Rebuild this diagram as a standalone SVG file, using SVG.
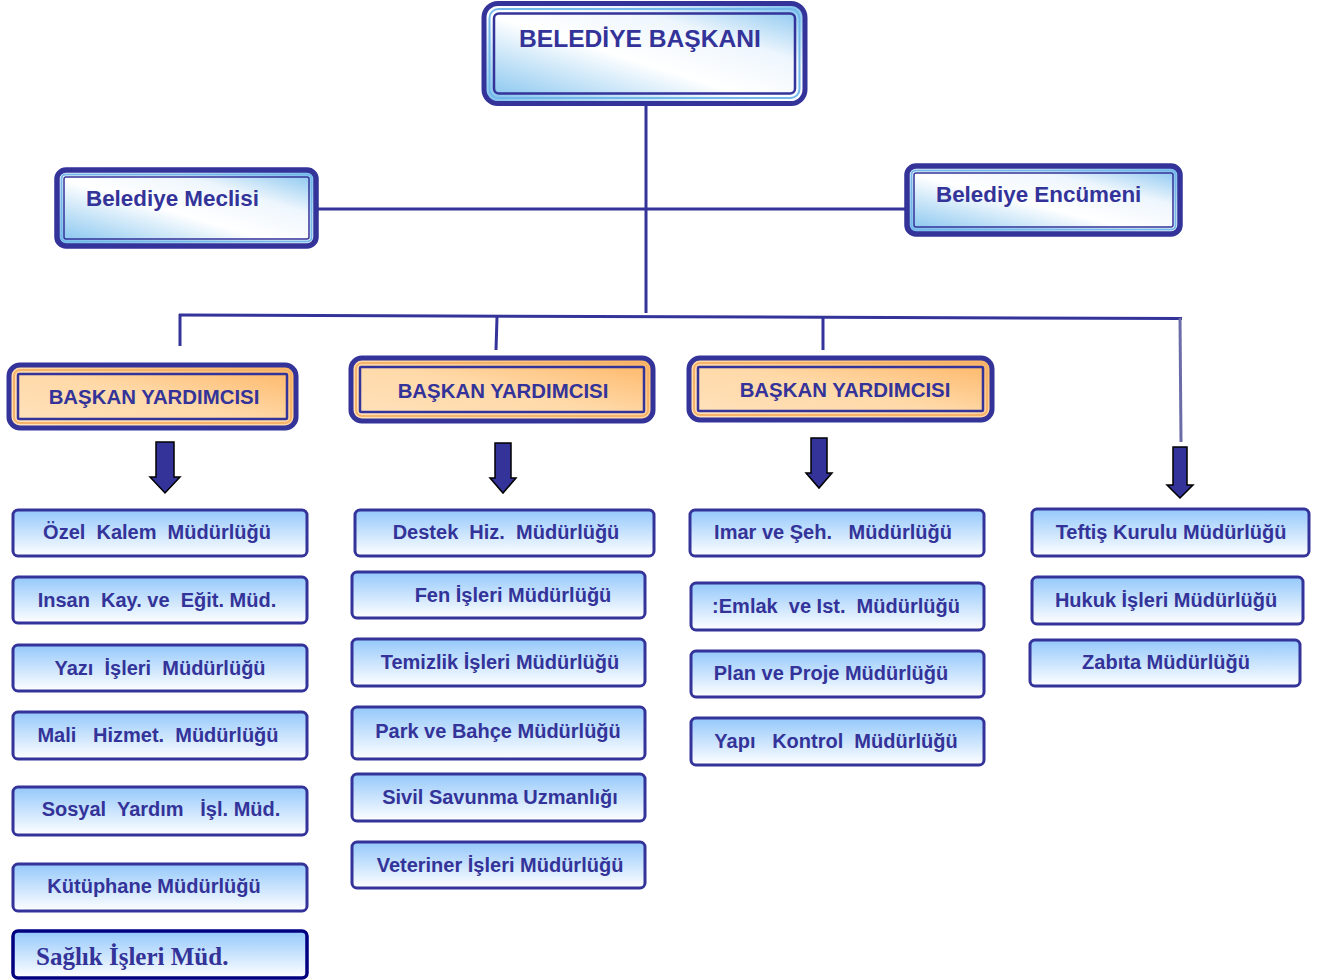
<svg xmlns="http://www.w3.org/2000/svg" width="1324" height="980" viewBox="0 0 1324 980">
<defs>
<linearGradient id="gBlue" x1="0" y1="1" x2="1" y2="0">
<stop offset="0" stop-color="#7cc0ee"/>
<stop offset="0.45" stop-color="#ffffff"/>
<stop offset="0.7" stop-color="#eef6fd"/>
<stop offset="1" stop-color="#7cc0ee"/>
</linearGradient>
<linearGradient id="gOrange" x1="0" y1="1" x2="1" y2="0">
<stop offset="0" stop-color="#ffe2bd"/>
<stop offset="0.5" stop-color="#ffd9a8"/>
<stop offset="1" stop-color="#fdb463"/>
</linearGradient>
<linearGradient id="gSmall" x1="0" y1="0" x2="0" y2="1">
<stop offset="0" stop-color="#94c8fb"/>
<stop offset="1" stop-color="#ffffff"/>
</linearGradient>
<style>
.t{font-family:"Liberation Sans",Arial,sans-serif;font-weight:bold;fill:#333399;white-space:pre}
.outer{stroke:#333399;stroke-width:5}
.midB{fill:none;stroke:#74b8ea;stroke-width:2}
.midO{fill:none;stroke:#f7b26a;stroke-width:2}
.inner{fill:none;stroke:#333399;stroke-width:2.5}
.sb{fill:url(#gSmall);stroke:#333399;stroke-width:3}
.st{font-size:20px;text-anchor:middle}
.conn{stroke:#333399;stroke-width:3;fill:none}
.arrow{fill:#333399;stroke:#000;stroke-width:1.5;stroke-linejoin:miter}
</style>
</defs>

<g id="connectors">
<line class="conn" x1="646" y1="106" x2="646" y2="313"/>
<line class="conn" x1="318" y1="209" x2="906" y2="209"/>
<line class="conn" x1="179" y1="315" x2="1182" y2="318.5"/>
<line class="conn" x1="180" y1="314" x2="180" y2="346"/>
<line class="conn" x1="497" y1="317" x2="496" y2="350"/>
<line class="conn" x1="823" y1="318" x2="823" y2="350"/>
<line x1="1180" y1="318" x2="1181" y2="442" stroke="#6b6ba8" stroke-width="3"/>
<polygon class="arrow" points="156,442 174,442 174,477 180,477 165,493 150,477 156,477"/>
<polygon class="arrow" points="495,443 511,443 511,478 516,478 503,493 490,478 495,478"/>
<polygon class="arrow" points="811,438 827,438 827,473 832,473 819,488 806,473 811,473"/>
<polygon class="arrow" points="1173,447 1187,447 1187,485 1193,485 1180,498 1167,485 1173,485"/>
</g>

<g id="baskan">
<rect class="outer" x="484" y="3.5" width="321" height="100" rx="14" fill="url(#gBlue)"/>
<rect class="midB" x="489.5" y="9" width="310" height="89" rx="9"/>
<rect class="inner" x="494" y="13.5" width="301" height="80" rx="5"/>
<text class="t" x="519" y="47" font-size="24.6">BELEDİYE BAŞKANI</text>
</g>

<g id="meclis">
<rect x="57" y="170" width="259" height="76" rx="9" fill="url(#gBlue)" stroke="#333399" stroke-width="5.5"/>
<rect class="midB" x="61.5" y="174.5" width="250" height="67" rx="4"/>
<rect x="64" y="177" width="245" height="62" rx="2" fill="none" stroke="#333399" stroke-width="1.5"/>
<text class="t" x="86" y="206" font-size="22.4">Belediye Meclisi</text>
</g>

<g id="encumen">
<rect x="907" y="166" width="273" height="68" rx="9" fill="url(#gBlue)" stroke="#333399" stroke-width="5.5"/>
<rect class="midB" x="911.5" y="170.5" width="264" height="59" rx="4"/>
<rect x="914" y="173" width="259" height="54" rx="2" fill="none" stroke="#333399" stroke-width="1.5"/>
<text class="t" x="936" y="202" font-size="22.4">Belediye Encümeni</text>
</g>

<g id="yardimci1">
<rect class="outer" x="9" y="365" width="287" height="63" rx="11" fill="url(#gOrange)"/>
<rect class="midO" x="14" y="370" width="277" height="53" rx="6"/>
<rect class="inner" x="18" y="374" width="269" height="45" rx="1"/>
<text class="t" x="154" y="404" font-size="20.4" text-anchor="middle">BAŞKAN YARDIMCISI</text>
</g>

<g id="yardimci2">
<rect class="outer" x="351" y="358" width="302" height="63" rx="11" fill="url(#gOrange)"/>
<rect class="midO" x="356" y="363" width="292" height="53" rx="6"/>
<rect class="inner" x="360" y="367" width="284" height="45" rx="1"/>
<text class="t" x="503" y="398" font-size="20.4" text-anchor="middle">BAŞKAN YARDIMCISI</text>
</g>

<g id="yardimci3">
<rect class="outer" x="689" y="358" width="303" height="62" rx="11" fill="url(#gOrange)"/>
<rect class="midO" x="694" y="363" width="293" height="52" rx="6"/>
<rect class="inner" x="698" y="367" width="285" height="44" rx="1"/>
<text class="t" x="845" y="397" font-size="20.4" text-anchor="middle">BAŞKAN YARDIMCISI</text>
</g>

<g id="ozel"><rect class="sb" x="13" y="510" width="294" height="46" rx="5"/><text class="t st" x="157" y="539">Özel  Kalem  Müdürlüğü</text></g>
<g id="insan"><rect class="sb" x="13" y="577" width="294" height="46" rx="5"/><text class="t st" x="157" y="607">Insan  Kay. ve  Eğit. Müd.</text></g>
<g id="yazi"><rect class="sb" x="13" y="645" width="294" height="46" rx="5"/><text class="t st" x="160" y="675">Yazı  İşleri  Müdürlüğü</text></g>
<g id="mali"><rect class="sb" x="13" y="712" width="294" height="47" rx="5"/><text class="t st" x="158" y="742">Mali   Hizmet.  Müdürlüğü</text></g>
<g id="sosyal"><rect class="sb" x="13" y="787" width="294" height="48" rx="5"/><text class="t st" x="161" y="816">Sosyal  Yardım   İşl. Müd.</text></g>
<g id="kutuphane"><rect class="sb" x="13" y="864" width="294" height="47" rx="5"/><text class="t st" x="154" y="893">Kütüphane Müdürlüğü</text></g>
<g id="saglik"><rect x="13" y="931" width="294" height="47" rx="5" fill="url(#gSmall)" stroke="#000080" stroke-width="3.5"/><text x="36" y="965" font-family="'Liberation Serif','Times New Roman',serif" font-weight="bold" font-size="25" fill="#333399">Sağlık İşleri Müd.</text></g>

<g id="destek"><rect class="sb" x="355" y="510" width="299" height="46" rx="5"/><text class="t st" x="506" y="539">Destek  Hiz.  Müdürlüğü</text></g>
<g id="fen"><rect class="sb" x="352" y="572" width="293" height="46" rx="5"/><text class="t st" x="513" y="602">Fen İşleri Müdürlüğü</text></g>
<g id="temizlik"><rect class="sb" x="352" y="639" width="293" height="47" rx="5"/><text class="t st" x="500" y="669">Temizlik İşleri Müdürlüğü</text></g>
<g id="park"><rect class="sb" x="352" y="707" width="293" height="52" rx="5"/><text class="t st" x="498" y="738">Park ve Bahçe Müdürlüğü</text></g>
<g id="sivil"><rect class="sb" x="352" y="774" width="293" height="47" rx="5"/><text class="t st" x="500" y="804">Sivil Savunma Uzmanlığı</text></g>
<g id="veteriner"><rect class="sb" x="352" y="842" width="293" height="46" rx="5"/><text class="t st" x="500" y="872">Veteriner İşleri Müdürlüğü</text></g>

<g id="imar"><rect class="sb" x="690" y="510" width="294" height="46" rx="5"/><text class="t st" x="833" y="539">Imar ve Şeh.   Müdürlüğü</text></g>
<g id="emlak"><rect class="sb" x="691" y="583" width="293" height="47" rx="5"/><text class="t st" x="836" y="613">:Emlak  ve Ist.  Müdürlüğü</text></g>
<g id="plan"><rect class="sb" x="691" y="651" width="293" height="46" rx="5"/><text class="t st" x="831" y="680">Plan ve Proje Müdürlüğü</text></g>
<g id="yapi"><rect class="sb" x="691" y="718" width="293" height="47" rx="5"/><text class="t st" x="836" y="748">Yapı   Kontrol  Müdürlüğü</text></g>

<g id="teftis"><rect class="sb" x="1032" y="509" width="277" height="47" rx="5"/><text class="t st" x="1171" y="539">Teftiş Kurulu Müdürlüğü</text></g>
<g id="hukuk"><rect class="sb" x="1032" y="577" width="271" height="47" rx="5"/><text class="t st" x="1166" y="607">Hukuk İşleri Müdürlüğü</text></g>
<g id="zabita"><rect class="sb" x="1030" y="640" width="270" height="46" rx="5"/><text class="t st" x="1166" y="669">Zabıta Müdürlüğü</text></g>
</svg>
